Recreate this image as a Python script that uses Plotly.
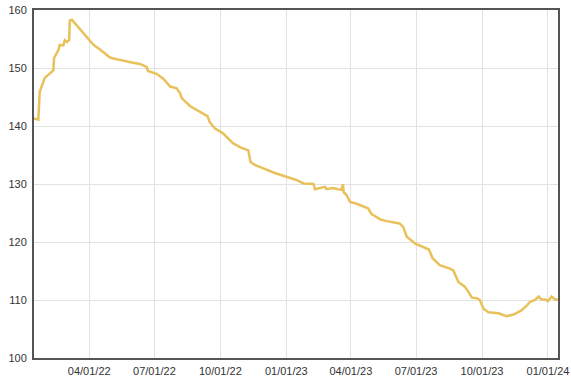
import plotly.graph_objects as go

dates = [
    "2022-01-14", "2022-01-20", "2022-01-21", "2022-01-22", "2022-01-29",
    "2022-02-08", "2022-02-10", "2022-02-11", "2022-02-17", "2022-02-19",
    "2022-02-24", "2022-02-26", "2022-03-01", "2022-03-04", "2022-03-05",
    "2022-03-08", "2022-03-12", "2022-03-17", "2022-03-22", "2022-03-29",
    "2022-04-07", "2022-04-16", "2022-04-30", "2022-05-09", "2022-05-14",
    "2022-06-01", "2022-06-11", "2022-06-20", "2022-06-22", "2022-07-04",
    "2022-07-13", "2022-07-23", "2022-08-01", "2022-08-06", "2022-08-08",
    "2022-08-20", "2022-09-02", "2022-09-13", "2022-09-16", "2022-09-23",
    "2022-10-05", "2022-10-19", "2022-10-29", "2022-11-09", "2022-11-12",
    "2022-11-18", "2022-11-30", "2022-12-16", "2023-01-02", "2023-01-15",
    "2023-01-25", "2023-02-08", "2023-02-10", "2023-02-24", "2023-02-26",
    "2023-03-07", "2023-03-14", "2023-03-19", "2023-03-21", "2023-03-22",
    "2023-03-26", "2023-03-31", "2023-04-09", "2023-04-25", "2023-04-30",
    "2023-05-12", "2023-05-21", "2023-06-08", "2023-06-13", "2023-06-18",
    "2023-06-30", "2023-07-14", "2023-07-19", "2023-07-24", "2023-08-03",
    "2023-08-17", "2023-08-22", "2023-08-29", "2023-09-07", "2023-09-12",
    "2023-09-17", "2023-09-24", "2023-09-28", "2023-10-03", "2023-10-10",
    "2023-10-24", "2023-11-04", "2023-11-14", "2023-11-25", "2023-12-03",
    "2023-12-07", "2023-12-14", "2023-12-19", "2023-12-23", "2023-12-28",
    "2024-01-01", "2024-01-06", "2024-01-11", "2024-01-15",
]

values = [
    141.3, 141.1, 143.5, 145.9, 148.3,
    149.4, 149.6, 151.7, 153.1, 154.0,
    153.9, 154.8, 154.5, 154.8, 158.2,
    158.3, 157.7, 157.1, 156.3, 155.3,
    154.0, 153.2, 151.8, 151.5, 151.4,
    150.9, 150.7, 150.2, 149.5, 149.0,
    148.2, 146.8, 146.5, 145.6, 144.8,
    143.4, 142.5, 141.7, 140.7, 139.6,
    138.7, 137.0, 136.3, 135.8, 133.8,
    133.3, 132.7, 131.9, 131.2, 130.7,
    130.1, 130.0, 129.1, 129.5, 129.1,
    129.3, 129.1, 129.0, 130.0, 128.6,
    128.1, 126.9, 126.6, 125.8, 124.8,
    123.9, 123.6, 123.2, 122.6, 120.9,
    119.7, 118.9, 118.7, 117.2, 116.0,
    115.4, 115.1, 113.1, 112.3, 111.4,
    110.4, 110.3, 110.0, 108.5, 107.9,
    107.7, 107.2, 107.5, 108.2, 109.1,
    109.7, 110.0, 110.6, 110.1, 110.1,
    109.8, 110.6, 110.1, 110.1,
]

x_ticks = ["2022-04-01", "2022-07-01", "2022-10-01", "2023-01-01",
           "2023-04-01", "2023-07-01", "2023-10-01", "2024-01-01"]
x_tick_labels = ["04/01/22", "07/01/22", "10/01/22", "01/01/23",
                 "04/01/23", "07/01/23", "10/01/23", "01/01/24"]
y_ticks = [100, 110, 120, 130, 140, 150, 160]

fig = go.Figure()
fig.add_trace(go.Scatter(
    x=dates, y=values, mode="lines",
    line=dict(color="#E8C15A", width=2.5),
    hoverinfo="skip", showlegend=False,
))

axis_common = dict(
    showline=True, linecolor="#555555", linewidth=2, mirror=True,
    showgrid=True, gridcolor="#e2e2e2", gridwidth=1,
    zeroline=False, ticks="", automargin=False,
    tickfont=dict(family="Liberation Sans, Arial, sans-serif", size=11, color="#333333"),
)

fig.update_layout(
    width=571, height=379,
    margin=dict(l=34, r=13, t=10, b=21),
    paper_bgcolor="white", plot_bgcolor="white",
    xaxis=dict(range=["2022-01-14", "2024-01-15"], tickvals=x_ticks,
               ticktext=x_tick_labels, ticklabelstandoff=2, **axis_common),
    yaxis=dict(range=[100, 160], tickvals=y_ticks, ticklabelstandoff=3,
               **axis_common),
)

fig.write_html("out.html")
